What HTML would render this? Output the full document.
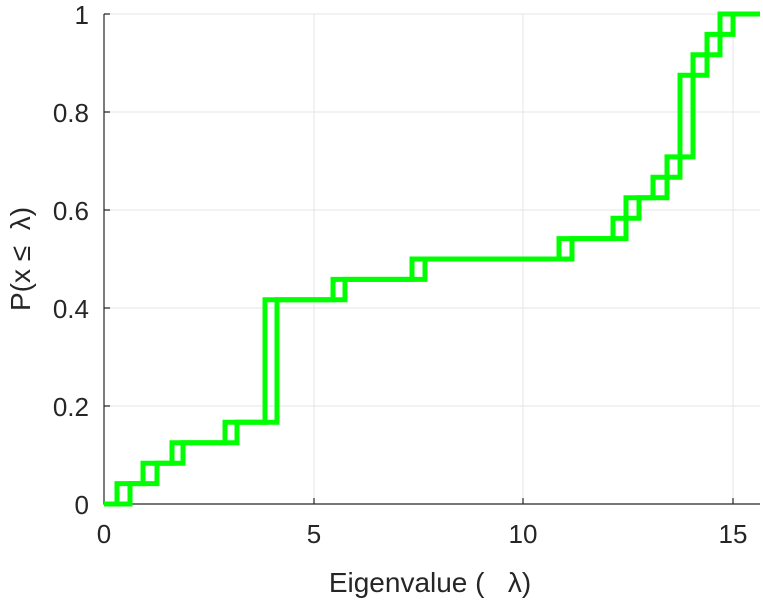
<!DOCTYPE html>
<html><head><meta charset="utf-8"><style>
html,body{margin:0;padding:0;background:#fff;}
svg text{font-family:"Liberation Sans",sans-serif;fill:#262626;}
</style></head><body>
<svg width="763" height="600" viewBox="0 0 763 600" xmlns="http://www.w3.org/2000/svg">
<g stroke="#e6e6e6" stroke-width="1">
<line x1="104" y1="14" x2="760" y2="14"/>
<line x1="104" y1="112" x2="760" y2="112"/>
<line x1="104" y1="210" x2="760" y2="210"/>
<line x1="104" y1="308" x2="760" y2="308"/>
<line x1="104" y1="406" x2="760" y2="406"/>
<line x1="314" y1="14" x2="314" y2="504"/>
<line x1="523" y1="14" x2="523" y2="504"/>
<line x1="733" y1="14" x2="733" y2="504"/>
</g>
<g stroke="#262626" stroke-width="1.2" fill="none">
<path d="M104,14 V504 H760"/>
<path d="M104,14 h6 M104,112 h6 M104,210 h6 M104,308 h6 M104,406 h6"/>
<path d="M314,504 v-6 M523,504 v-6 M733,504 v-6"/>
</g>
<g fill="none" stroke="#00ff00" stroke-width="5">
<path d="M104,504 H117 V483.6 H143 V463.2 H172 V442.8 H225 V422.3 H265 V299.8 H333 V279.4 H412 V259 H559 V238.6 H613 V218.2 H626 V197.8 H653 V177.3 H667 V156.9 H680 V75.2 H693 V54.8 H707 V34.4 H720 V14 H760"/>
<path d="M104,504 H130 V483.6 H157 V463.2 H183 V442.8 H237 V422.3 H277 V299.8 H345 V279.4 H425 V259 H572 V238.6 H626 V218.2 H639 V197.8 H667 V177.3 H680 V156.9 H693 V75.2 H707 V54.8 H720 V34.4 H733 V14 H760"/>
</g>
<g font-size="26" text-anchor="end">
<text x="89" y="24">1</text>
<text x="89" y="122">0.8</text>
<text x="89" y="220">0.6</text>
<text x="89" y="318">0.4</text>
<text x="89" y="416">0.2</text>
<text x="89" y="514">0</text>
</g>
<g font-size="26" text-anchor="middle">
<text x="104" y="543">0</text>
<text x="314" y="543">5</text>
<text x="523" y="543">10</text>
<text x="733" y="543">15</text>
<text x="430" y="592" font-size="28">Eigenvalue (&#160;&#160;&#160;λ)</text>
<text transform="translate(30,259) rotate(-90)" font-size="28">P(x ≤&#160;&#160;λ)</text>
</g>
</svg>
</body></html>
